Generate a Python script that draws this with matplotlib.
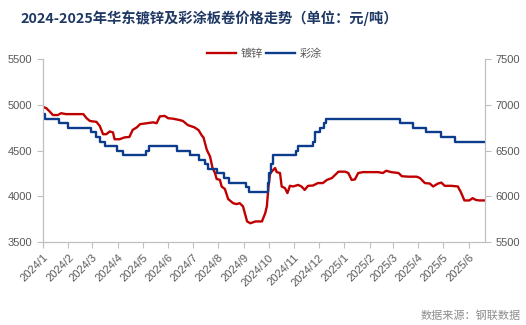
import matplotlib
matplotlib.use("Agg")
import matplotlib.pyplot as plt
import matplotlib.dates as mdates
import pandas as pd

plt.rcParams["font.family"] = ["Noto Sans CJK SC", "DejaVu Sans"]

# 镀锌 (左轴)
zinc_dates = [
    "2024-01-01", "2024-01-05", "2024-01-09", "2024-01-13", "2024-01-19", "2024-01-23",
    "2024-01-29", "2024-02-19", "2024-02-23", "2024-02-27", "2024-03-06", "2024-03-10",
    "2024-03-14", "2024-03-18", "2024-03-22", "2024-03-26", "2024-03-28", "2024-04-03",
    "2024-04-09", "2024-04-15", "2024-04-19", "2024-04-24", "2024-04-28", "2024-05-06",
    "2024-05-14", "2024-05-18", "2024-05-22", "2024-05-28", "2024-06-01", "2024-06-07",
    "2024-06-15", "2024-06-19", "2024-06-25", "2024-07-03", "2024-07-08", "2024-07-12",
    "2024-07-14", "2024-07-18", "2024-07-22", "2024-07-25", "2024-07-28", "2024-07-30",
    "2024-08-03", "2024-08-05", "2024-08-09", "2024-08-13", "2024-08-19", "2024-08-23",
    "2024-08-27", "2024-08-31", "2024-09-05", "2024-09-09", "2024-09-15", "2024-09-23",
    "2024-09-27", "2024-09-29", "2024-10-01", "2024-10-03", "2024-10-07", "2024-10-09",
    "2024-10-11", "2024-10-15", "2024-10-17", "2024-10-21", "2024-10-24", "2024-10-27",
    "2024-10-31", "2024-11-06", "2024-11-10", "2024-11-14", "2024-11-18", "2024-11-24",
    "2024-11-30", "2024-12-06", "2024-12-11", "2024-12-17", "2024-12-21", "2024-12-25",
    "2025-01-02", "2025-01-06", "2025-01-10", "2025-01-14", "2025-01-18", "2025-01-24",
    "2025-02-11", "2025-02-17", "2025-02-21", "2025-02-27", "2025-03-08", "2025-03-12",
    "2025-03-20", "2025-03-30", "2025-04-03", "2025-04-09", "2025-04-15", "2025-04-19",
    "2025-04-25", "2025-04-29", "2025-05-03", "2025-05-11", "2025-05-19", "2025-05-23",
    "2025-05-27", "2025-06-02", "2025-06-06", "2025-06-10", "2025-06-14", "2025-06-21",
]
zinc_values = [
    4980, 4965, 4930, 4890, 4890, 4910,
    4900, 4900, 4855, 4825, 4815, 4770,
    4680, 4680, 4710, 4700, 4625, 4625,
    4645, 4650, 4727, 4755, 4790, 4800,
    4810, 4800, 4875, 4880, 4855, 4850,
    4835, 4825, 4780, 4755, 4725, 4665,
    4645, 4510, 4435, 4310, 4255, 4190,
    4180, 4108, 4080, 3970, 3925, 3915,
    3925, 3890, 3725, 3705, 3725, 3725,
    3815, 3890, 4108, 4255, 4290, 4310,
    4265, 4255, 4108, 4090, 4035, 4115,
    4108, 4125, 4108, 4070, 4115, 4118,
    4145, 4145, 4180, 4200, 4235, 4270,
    4270, 4255, 4180, 4185, 4255, 4265,
    4265, 4255, 4280, 4265, 4255, 4220,
    4215, 4215, 4200, 4145, 4140, 4108,
    4140, 4150, 4115, 4115, 4108, 4040,
    3955, 3955, 3980, 3960, 3955, 3955,
]

# 彩涂 (右轴)，阶梯变化
coat_dates = [
    "2024-01-01", "2024-01-03", "2024-01-21", "2024-01-31", "2024-02-28", "2024-03-06",
    "2024-03-10", "2024-03-16", "2024-03-31", "2024-04-07", "2024-05-05", "2024-05-09",
    "2024-06-12", "2024-06-28", "2024-07-08", "2024-07-16", "2024-07-19", "2024-07-31",
    "2024-08-08", "2024-08-14", "2024-09-04", "2024-09-07", "2024-09-30", "2024-10-02",
    "2024-10-04", "2024-10-07", "2024-11-04", "2024-11-06", "2024-11-24", "2024-11-26",
    "2024-12-03", "2024-12-07", "2024-12-10", "2025-03-10", "2025-03-25", "2025-04-10",
    "2025-04-29", "2025-05-16", "2025-06-21",
]
coat_values = [
    6900, 6850, 6800, 6750, 6700, 6650,
    6600, 6550, 6500, 6450, 6500, 6550,
    6500, 6450, 6400, 6350, 6300, 6250,
    6200, 6150, 6100, 6050, 6150, 6250,
    6350, 6450, 6500, 6550, 6600, 6700,
    6750, 6800, 6850, 6800, 6750, 6700,
    6650, 6600, 6600,
]

month_ticks = pd.date_range("2024-01-01", "2025-06-01", freq="MS")

red = "#C00000"
blue = "#0C3C8C"
axis_grey = "#BFBFBF"
text_grey = "#595959"

fig = plt.figure(figsize=(5.26, 3.25), dpi=100)
ax = fig.add_axes([0.0817, 0.2554, 0.8403, 0.5621])
ax2 = ax.twinx()

ax.plot(pd.to_datetime(zinc_dates), zinc_values, color=red, lw=1.7, label="镀锌")
ax2.step(pd.to_datetime(coat_dates), coat_values, where="post", color=blue, lw=1.7, label="彩涂")

ax.set_xlim(pd.Timestamp("2024-01-01"), pd.Timestamp("2025-06-21"))
ax.set_ylim(3500, 5500)
ax2.set_ylim(5500, 7500)
ax.set_yticks([3500, 4000, 4500, 5000, 5500])
ax2.set_yticks([5500, 6000, 6500, 7000, 7500])

ax.set_xticks(month_ticks)
ax.xaxis.set_major_formatter(mdates.DateFormatter("%Y/%-m"))

for a in (ax, ax2):
    a.spines["top"].set_visible(False)
    for s in ("left", "right", "bottom"):
        a.spines[s].set_color(axis_grey)
    a.tick_params(colors=axis_grey, labelcolor=text_grey, labelsize=8, length=4, width=0.8)
    for lab in a.get_yticklabels():
        lab.set_family(["Liberation Sans", "DejaVu Sans"])

for lab in ax.get_xticklabels():
    lab.set_family(["Liberation Sans", "DejaVu Sans"])
    lab.set_rotation(45)
    lab.set_ha("right")
    lab.set_rotation_mode("anchor")

# 图例
h1, l1 = ax.get_legend_handles_labels()
h2, l2 = ax2.get_legend_handles_labels()
fig.legend(h1 + h2, l1 + l2, loc="center", bbox_to_anchor=(0.503, 0.835), ncol=2,
           frameon=False, fontsize=8, handlelength=2.6, columnspacing=0.3,
           handletextpad=0.4, labelcolor=text_grey)

fig.text(0.038, 0.945, "2024-2025年华东镀锌及彩涂板卷价格走势（单位：元/吨）",
         fontsize=10.3, fontweight="bold", color="#1F3864", va="center")
fig.text(0.99, 0.028, "数据来源：钢联数据", fontsize=8, color="#8C8C8C",
         ha="right", va="center")

fig.savefig("out.png", dpi=100)
